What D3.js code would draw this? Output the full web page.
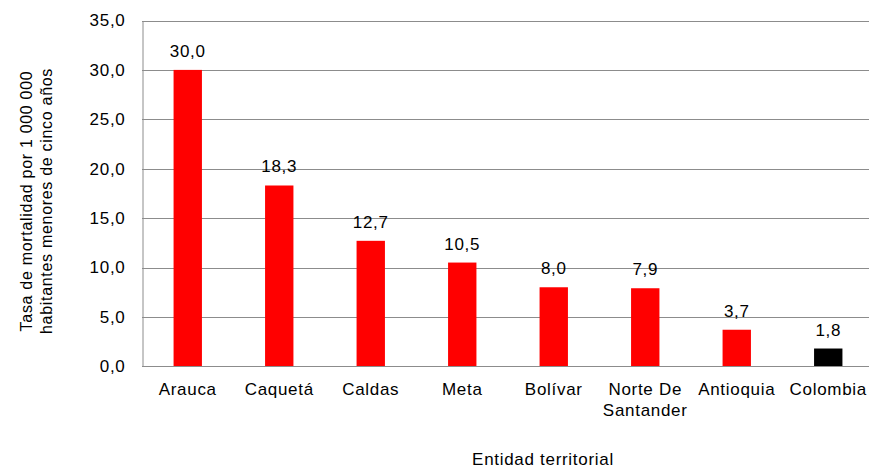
<!DOCTYPE html>
<html><head><meta charset="utf-8">
<script src="https://cdn.jsdelivr.net/npm/d3@7"></script>
<style>body{margin:0;background:#fff}svg{display:block}text{font-family:"Liberation Sans",Arial,sans-serif;fill:#000}</style>
</head><body><svg id="c" width="869" height="470"></svg>
<script>
const categories = ["Arauca","Caquetá","Caldas","Meta","Bolívar","Norte De Santander","Antioquia","Colombia"];
const values = [30.0,18.3,12.7,10.5,8.0,7.9,3.7,1.8];
const barColors = ["#ff0000","#ff0000","#ff0000","#ff0000","#ff0000","#ff0000","#ff0000","#000000"];
const yTicks = [0,5,10,15,20,25,30,35];
const yTitle = ["Tasa de mortalidad por 1 000 000","habitantes menores de cinco años"];
const xTitle = "Entidad territorial";

const svg = d3.select("#c");
const m = {l:142, t:20.5, r:874, b:366.3};
const LS = "0.7px";
const fmt = v => v.toFixed(1).replace(".", ",");
const x = d3.scaleBand().domain(categories).range([m.l, m.r]).paddingInner(0.69).paddingOuter(0.345);
const y = d3.scaleLinear().domain([0,35]).range([m.b, m.t]);

// gridlines
svg.append("g").selectAll("line").data(yTicks.filter(d=>d>0)).join("line")
  .attr("x1", m.l).attr("x2", 869).attr("y1", d=>Math.round(y(d))+0.5).attr("y2", d=>Math.round(y(d))+0.5)
  .attr("stroke", "#8c8c8c").attr("stroke-width", 1);

// y axis
const ya = svg.append("g").attr("transform", `translate(${m.l+0.5},0)`)
  .call(d3.axisLeft(y).tickValues(yTicks).tickFormat(fmt).tickSize(0).tickPadding(17));
ya.select(".domain").attr("stroke", "#8c8c8c");
ya.selectAll("text").attr("font-size", 17).attr("letter-spacing", LS)
  .attr("font-family", "Liberation Sans, Arial, sans-serif").attr("fill","#000");

// bars
svg.append("g").selectAll("rect").data(values).join("rect")
  .attr("x", (d,i)=>x(categories[i])).attr("width", x.bandwidth())
  .attr("y", d=>y(d)).attr("height", d=>m.b - y(d))
  .attr("fill", (d,i)=>barColors[i]);

// x axis line
svg.append("line").attr("x1", m.l).attr("x2", 869).attr("y1", Math.round(m.b)+0.5).attr("y2", Math.round(m.b)+0.5)
  .attr("stroke", "#8c8c8c");

// value labels
svg.append("g").selectAll("text").data(values).join("text")
  .attr("x", (d,i)=>x(categories[i]) + x.bandwidth()/2)
  .attr("y", d=>y(d) - 13).attr("text-anchor","middle").attr("font-size",17).attr("letter-spacing", LS)
  .text(fmt);

// category labels
const cl = svg.append("g").selectAll("text").data(categories).join("text")
  .attr("x", d=>x(d) + x.bandwidth()/2).attr("y", 395).attr("text-anchor","middle").attr("font-size",17).attr("letter-spacing", LS);
cl.each(function(d){
  const t = d3.select(this);
  const lines = d === "Norte De Santander" ? ["Norte De","Santander"] : [d];
  lines.forEach((s,k)=>t.append("tspan").attr("x", x(d)+x.bandwidth()/2).attr("dy", k?21:0).text(s));
});

// y title
const yt = svg.append("text").attr("transform","translate(32,201) rotate(-90)").attr("text-anchor","middle").attr("font-size",16).attr("letter-spacing", LS);
yTitle.forEach((s,k)=>yt.append("tspan").attr("x",0).attr("dy", k?20:0).text(s));

// x title
svg.append("text").attr("x", 543).attr("y", 465).attr("text-anchor","middle").attr("font-size",17).attr("letter-spacing", LS).text(xTitle);
</script></body></html>
